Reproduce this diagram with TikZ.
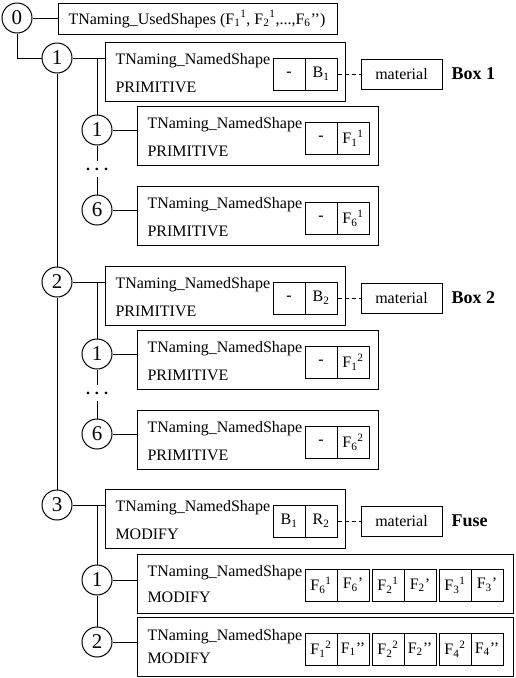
\documentclass[tikz,border=0pt]{standalone}
\usepackage{fontspec}
\setmainfont{Liberation Serif}
\usetikzlibrary{positioning}

\newcommand{\Fs}[2]{F\textsubscript{#1}\textsuperscript{#2}}

\begin{document}
\begin{tikzpicture}[x=1pt, y=-1pt, line width=1pt, font=\fontsize{16}{19}\selectfont,
  num/.style={circle, draw, minimum size=30pt, inner sep=0pt, font=\fontsize{21}{24}\selectfont},
  frame/.style={draw, rectangle, anchor=north west, minimum height=59pt, inner sep=0pt},
  txt/.style={anchor=base west, inner sep=0pt},
  cell/.style={draw, rectangle, minimum width=32pt, minimum height=32pt, inner sep=0pt},
  mat/.style={draw, rectangle, minimum width=81pt, minimum height=30pt, inner sep=0pt},
  tag/.style={anchor=west, inner sep=0pt, font=\fontsize{18}{20}\selectfont\bfseries},
  dots/.style={inner sep=0pt, minimum height=15pt, font=\fontsize{16}{19}\selectfont\bfseries},
  link/.style={dash pattern=on 4pt off 3pt}]

\useasboundingbox (0,0) rectangle (515,678);

\node[num] (c0) at (17,18) {0};
\node[draw, rectangle, minimum width=279pt, minimum height=31pt, inner sep=0pt] (root) at (197.5,18.5) {};
\node[txt] at (68,24) {TNaming\_UsedShapes (\Fs{1}{1}, \Fs{2}{1},...,F\textsubscript{6}'{}')};
\draw (c0) -- (c0 -| root.west);

\foreach \i/\y/\lab in {1/58/Box 1, 2/282/Box 2} {
    \node[num] (c\i) at (57,\y) {\i};
    \node[frame, minimum width=240pt] (p\i) at (105,\y-16) {};
    \node[txt] at (115,\y+6) {TNaming\_NamedShape};
    \node[txt] at (115,\y+34) {PRIMITIVE};
    \node[cell] (a\i) at (289,\y+16) {-};
    \node[cell] (b\i) at (321,\y+16) {B\textsubscript{\i}};
    \node[mat] (m\i) at (401.5,\y+16) {material};
    \node[tag] at (451,\y+16) {\lab};
    \draw (c\i) -- (c\i -| p\i.west);
    \draw[link] (b\i) -- (m\i);
    \foreach \k/\d in {1/72, 6/152} {
        \node[num] (s\i\k) at (97,\y+\d) {\k};
        \node[frame, minimum width=241pt] (q\i\k) at (137,\y+\d-24) {};
        \node[txt] at (147,\y+\d-2) {TNaming\_NamedShape};
        \node[txt] at (147,\y+\d+26) {PRIMITIVE};
        \node[cell] at (321,\y+\d+8) {-};
        \node[cell] at (353,\y+\d+8) {\Fs{\k}{\i}};
        \draw (s\i\k) -- (s\i\k -| q\i\k.west);
    }
    \node[dots] (d\i) at (97,\y+111) {.\hspace{5pt}.\hspace{5pt}.};
    \draw (c\i -| s\i1) -- (s\i1);
    \draw (s\i1) -- (d\i);
    \draw (d\i) -- (s\i6);
}

\node[num] (c3) at (57,505) {3};
\node[frame, minimum width=240pt] (p3) at (105,489) {};
\node[txt] at (115,511) {TNaming\_NamedShape};
\node[txt] at (115,539) {MODIFY};
\node[cell] (a3) at (289,521) {B\textsubscript{1}};
\node[cell] (b3) at (321,521) {R\textsubscript{2}};
\node[mat] (m3) at (401.5,521) {material};
\node[tag] at (451,521) {Fuse};
\draw (c3) -- (c3 -| p3.west);
\draw[link] (b3) -- (m3);

\node[num] (s31) at (97,580) {1};
\node[frame, minimum width=376pt] (q31) at (137,554) {};
\node[txt] at (147,576) {TNaming\_NamedShape};
\node[txt] at (147,602) {MODIFY};
\foreach \x/\a/\b in {321/{\Fs{6}{1}}/{F\textsubscript{6}'}, 388/{\Fs{2}{1}}/{F\textsubscript{2}'}, 455/{\Fs{3}{1}}/{F\textsubscript{3}'}} {
    \node[cell] at (\x,585) {\a};
    \node[cell] at (\x+32,585) {\b};
}

\node[num] (s32) at (97,642) {2};
\node[frame, minimum width=376pt] (q32) at (137,617) {};
\node[txt] at (147,640) {TNaming\_NamedShape};
\node[txt] at (147,663) {MODIFY};
\foreach \x/\a/\b in {321/{\Fs{1}{2}}/{F\textsubscript{1}'{}'}, 388/{\Fs{2}{2}}/{F\textsubscript{2}'{}'}, 455/{\Fs{4}{2}}/{F\textsubscript{4}'{}'}} {
    \node[cell] at (\x,649) {\a};
    \node[cell] at (\x+32,649) {\b};
}

\draw (c0) |- (c1);
\draw (c1) -- (c2);
\draw (c2) -- (c3);
\draw (c3 -| s31) -- (s31);
\draw (s31) -- (s32);
\draw (s31) -- (s31 -| q31.west);
\draw (s32) -- (s32 -| q32.west);
\end{tikzpicture}
\end{document}
